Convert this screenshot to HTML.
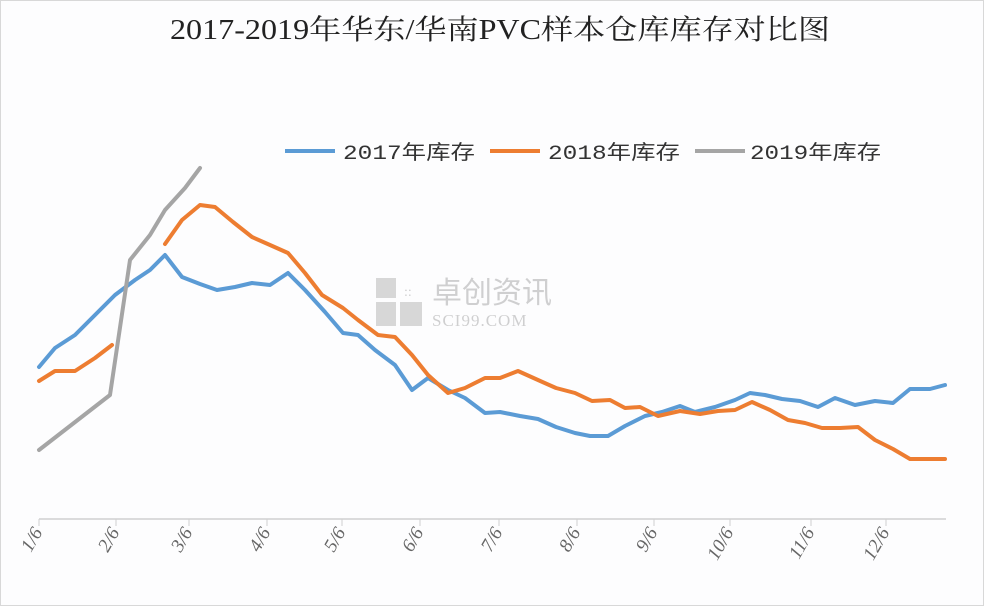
<!DOCTYPE html>
<html><head><meta charset="utf-8"><style>
html,body{margin:0;padding:0;background:#fff}
svg{display:block}
</style></head><body>
<svg width="984" height="606" viewBox="0 0 984 606" xmlns="http://www.w3.org/2000/svg">
<rect x="0" y="0" width="984" height="606" fill="#fdfdfe"/>
<rect x="0.5" y="0.5" width="983" height="605" fill="none" stroke="#d8d8d8"/>
<text x="170" y="39" textLength="660" lengthAdjust="spacingAndGlyphs" font-family="'Liberation Serif','Noto Serif CJK SC',serif" font-size="28" fill="#222">2017-2019年华东/华南PVC样本仓库库存对比图</text>
<g font-family="'Liberation Mono','Noto Sans CJK SC',sans-serif" font-size="20" fill="#333">
<line x1="285" y1="151" x2="335" y2="151" stroke="#5b9bd5" stroke-width="4"/>
<text x="343" y="159" textLength="132" lengthAdjust="spacingAndGlyphs">2017年库存</text>
<line x1="490" y1="151" x2="540" y2="151" stroke="#ed7d31" stroke-width="4"/>
<text x="548" y="159" textLength="132" lengthAdjust="spacingAndGlyphs">2018年库存</text>
<line x1="695" y1="151" x2="745" y2="151" stroke="#a5a5a5" stroke-width="4"/>
<text x="750" y="159" textLength="131" lengthAdjust="spacingAndGlyphs">2019年库存</text>
</g>
<g opacity="0.45">
<rect x="376" y="278" width="20" height="20" fill="#aaa"/>
<rect x="376" y="302" width="20" height="24" fill="#aaa"/>
<rect x="400" y="302" width="22" height="24" fill="#aaa"/>
<text x="404" y="296" font-size="14" fill="#999">::</text>
<text x="432" y="303" font-family="'Noto Sans CJK SC',sans-serif" font-size="30" fill="#999">卓创资讯</text>
<text x="432" y="326" font-family="'Liberation Serif',serif" font-size="17" fill="#999" letter-spacing="1">SCI99.COM</text>
</g>
<line x1="39" y1="519" x2="946" y2="519" stroke="#d0d0d0" stroke-width="1.5"/>
<g stroke="#d0d0d0" stroke-width="1">
<line x1="39" y1="519" x2="39" y2="526"/><line x1="116" y1="519" x2="116" y2="526"/><line x1="189" y1="519" x2="189" y2="526"/><line x1="267" y1="519" x2="267" y2="526"/><line x1="342" y1="519" x2="342" y2="526"/><line x1="420" y1="519" x2="420" y2="526"/><line x1="499" y1="519" x2="499" y2="526"/><line x1="577" y1="519" x2="577" y2="526"/><line x1="654" y1="519" x2="654" y2="526"/><line x1="730" y1="519" x2="730" y2="526"/><line x1="811" y1="519" x2="811" y2="526"/><line x1="886" y1="519" x2="886" y2="526"/>
</g>
<g font-family="'Liberation Serif',serif" font-size="19" font-style="italic" fill="#666" text-anchor="end">
<text transform="translate(43,532) rotate(-60)">1/6</text>
<text transform="translate(120,532) rotate(-60)">2/6</text>
<text transform="translate(193,532) rotate(-60)">3/6</text>
<text transform="translate(271,532) rotate(-60)">4/6</text>
<text transform="translate(346,532) rotate(-60)">5/6</text>
<text transform="translate(424,532) rotate(-60)">6/6</text>
<text transform="translate(503,532) rotate(-60)">7/6</text>
<text transform="translate(581,532) rotate(-60)">8/6</text>
<text transform="translate(658,532) rotate(-60)">9/6</text>
<text transform="translate(734,532) rotate(-60)">10/6</text>
<text transform="translate(815,532) rotate(-60)">11/6</text>
<text transform="translate(890,532) rotate(-60)">12/6</text>
</g>
<g fill="none" stroke-width="4" stroke-linejoin="round" stroke-linecap="round">
<polyline stroke="#5b9bd5" points="39,367 55,348 75,335 95,315 115,295 135,280 150,270 165,255 182,277 200,284 217,290 235,287 252,283 270,285 288,273 305,290 325,312 343,333 358,335 375,350 395,365 412,390 428,378 448,390 465,398 485,413 500,412 520,416 538,419 556,427 575,433 590,436 608,436 625,426 645,416 662,412 680,406 695,412 715,407 735,400 750,393 765,395 782,399 800,401 818,407 835,398 855,405 875,401 893,403 910,389 930,389 945,385"/>
<polyline stroke="#ed7d31" points="39,381 55,371 75,371 95,358 112,345"/>
<polyline stroke="#ed7d31" points="165,244 182,220 200,205 215,207 233,222 252,237 270,245 288,253 305,273 322,295 343,308 358,320 378,335 395,337 412,355 428,375 448,393 465,388 485,378 500,378 518,371 538,380 556,388 575,393 592,401 610,400 625,408 640,407 658,416 680,411 700,414 718,411 735,410 752,402 770,410 788,420 805,423 822,428 840,428 858,427 875,440 893,449 910,459 945,459"/>
<polyline stroke="#a5a5a5" points="39,450 110,395 130,260 150,235 165,210 185,188 200,168"/>
</g>
</svg>
</body></html>
